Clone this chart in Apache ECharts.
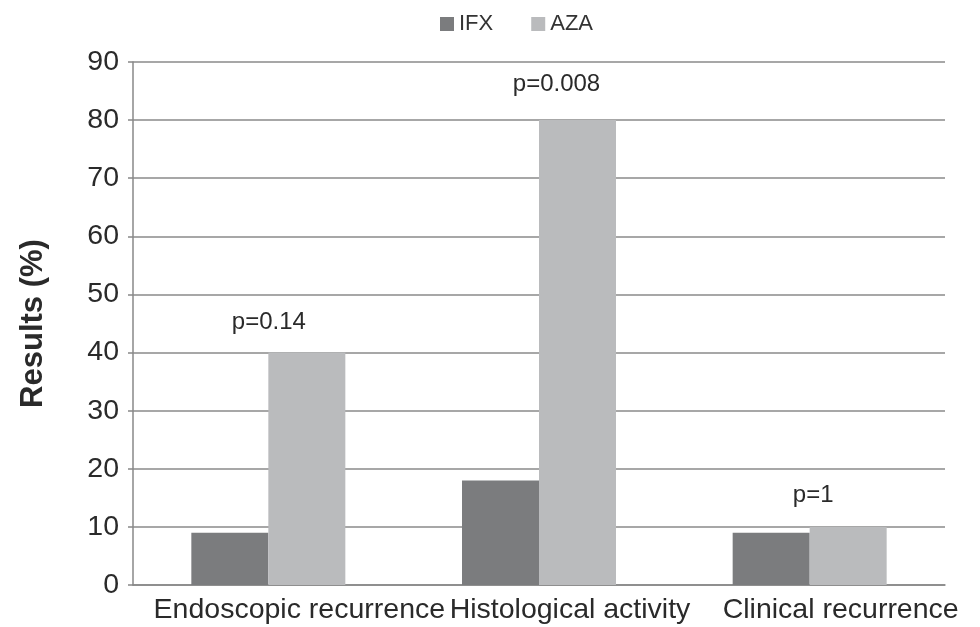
<!DOCTYPE html>
<html>
<head>
<meta charset="utf-8">
<script src="https://cdn.jsdelivr.net/npm/echarts@6/dist/echarts.min.js"></script>
<style>
  body { margin: 0; background: #fff; }
</style>
</head>
<body>
<div id="main" style="width: 980px;height:627px;"></div>
<script>
// data
var categories = ['Endoscopic recurrence', 'Histological activity', 'Clinical recurrence']
var ifx = [9, 18, 9]
var aza = [40, 80, 10]
var pValues = ['p=0.14', 'p=0.008', 'p=1']

var font = '"Liberation Sans", Arial, sans-serif'
// shift of each p label relative to the AZA bar top
var pOffsets = [[-38, -13], [-21, -19], [-35, -15]]

var myChart = echarts.init(document.getElementById('main'))

var option = {
  animation: false,
  textStyle: { fontFamily: font },
  legend: {
    top: 8,
    left: 435,
    itemWidth: 14,
    itemHeight: 14,
    itemGap: 38,
    icon: 'rect',
    textStyle: { fontSize: 22, color: '#333', padding: [0, 0, 0, 0] },
    data: ['IFX', 'AZA']
  },
  grid: {
    left: 133,
    right: 35,
    top: 62,
    bottom: 42
  },
  xAxis: {
    type: 'category',
    data: categories,
    axisLine: { lineStyle: { color: '#888', width: 1.5 } },
    axisTick: { show: false },
    axisLabel: {
      interval: 0,
      fontSize: 28.5,
      color: '#2a2a2a',
      margin: 11,
      padding: [0, 0, 0, 62]
    }
  },
  yAxis: {
    type: 'value',
    min: 0,
    max: 90,
    interval: 10,
    name: 'Results (%)',
    nameLocation: 'middle',
    nameGap: 84,
    nameTextStyle: { fontSize: 31, fontWeight: 'bold', color: '#2a2a2a' },
    axisLine: { show: true, lineStyle: { color: '#888', width: 1.5 } },
    axisTick: { show: true, length: 5, lineStyle: { color: '#888', width: 1.5 } },
    axisLabel: { fontSize: 28.5, color: '#2a2a2a', margin: 14 },
    splitLine: { lineStyle: { color: '#8a8a8a', width: 1.5 } }
  },
  series: [
    {
      name: 'IFX',
      type: 'bar',
      barWidth: 77,
      barGap: '0%',
      itemStyle: { color: '#7b7c7e' },
      data: ifx
    },
    {
      name: 'AZA',
      type: 'bar',
      barWidth: 77,
      itemStyle: { color: '#babbbd' },
      data: aza.map(function (v, i) {
        return {
          value: v,
          label: {
            show: true,
            position: 'top',
            offset: pOffsets[i],
            formatter: pValues[i],
            fontSize: 24,
            color: '#2a2a2a'
          }
        }
      })
    }
  ]
}

myChart.setOption(option)
</script>
</body>
</html>
